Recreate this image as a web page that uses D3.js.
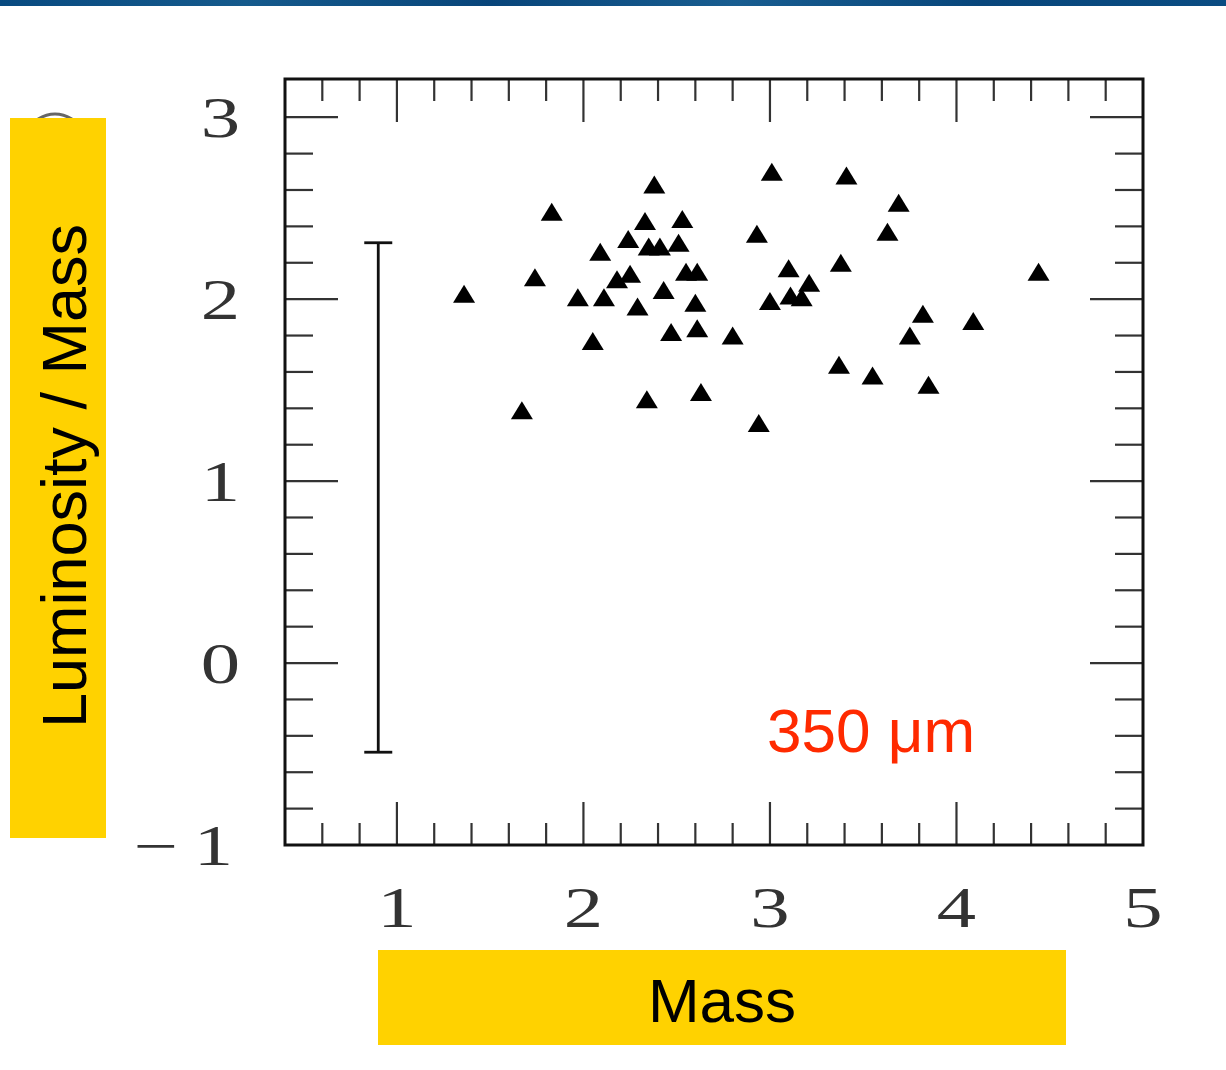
<!DOCTYPE html>
<html>
<head>
<meta charset="utf-8">
<title>Luminosity / Mass vs Mass</title>
<script src="https://cdn.jsdelivr.net/npm/d3@7"></script>
<style>
  html, body { margin: 0; padding: 0; background: #fff; }
  svg { display: block; }
</style>
</head>
<body>
<div id="chart"></div>
<script>
// values
var massValues = [1.36, 1.67, 1.74, 1.83, 1.97, 2.05, 2.09, 2.11, 2.18, 2.24, 2.25, 2.29,
                  2.33, 2.34, 2.35, 2.38, 2.41, 2.43, 2.47, 2.51, 2.53, 2.55, 2.60, 2.61,
                  2.61, 2.63, 2.80, 2.94, 2.93, 3.01, 3.00, 3.10, 3.11, 3.17, 3.21, 3.38,
                  3.37, 3.41, 3.55, 3.63, 3.69, 3.75, 3.82, 3.85, 4.09, 4.44];
var lumValues  = [2.03, 1.39, 2.12, 2.48, 2.01, 1.77, 2.26, 2.01, 2.11, 2.33, 2.14, 1.96,
                  2.43, 1.45, 2.29, 2.63, 2.29, 2.05, 1.82, 2.31, 2.44, 2.15, 1.98, 2.15,
                  1.84, 1.49, 1.80, 1.32, 2.36, 2.70, 1.99, 2.17, 2.02, 2.01, 2.09, 2.20,
                  1.64, 2.68, 1.58, 2.37, 2.53, 1.80, 1.92, 1.53, 1.88, 2.15];
var xTickLabels = [1, 2, 3, 4, 5];
var yTickLabels = [-1, 0, 1, 2, 3];
var errorBar = {x: 0.9, low: -0.49, high: 2.31};
var bandLabel = "350 \u03bcm";
var xTitle = "Mass";
var yTitle = "Luminosity / Mass";

var W = 1226, H = 1070;
var frame = {left: 285, right: 1143, top: 79, bottom: 845};

var svg = d3.select("#chart").append("svg").attr("width", W).attr("height", H);

// top banner strip
var grad = svg.append("defs").append("linearGradient").attr("id", "banner")
    .attr("x1", "0%").attr("x2", "100%").attr("y1", "0%").attr("y2", "0%");
[["0%", "#084a80"], ["20%", "#155a8c"], ["40%", "#08457a"], ["60%", "#185d90"], ["80%", "#08467b"], ["100%", "#0a4c82"]]
  .forEach(function (s) { grad.append("stop").attr("offset", s[0]).attr("stop-color", s[1]); });
svg.append("rect").attr("x", 0).attr("y", 0).attr("width", W).attr("height", 6).attr("fill", "url(#banner)");

var x = d3.scaleLinear().domain([0.4, 5]).range([frame.left, frame.right]);
var y = d3.scaleLinear().domain([-1, 3.21]).range([frame.bottom, frame.top]);

var tickColor = "#333";
var g = svg.append("g");

// minor + major ticks on all four sides
var xMinor = d3.range(0.6, 4.81, 0.2).filter(function (v) { return Math.abs(v - Math.round(v)) > 1e-6; });
var yMinor = d3.range(-0.8, 3.11, 0.2).filter(function (v) { return Math.abs(v - Math.round(v)) > 1e-6; });
var xMajor = xTickLabels.filter(function (v) { return v < 5; });
var yMajor = yTickLabels.filter(function (v) { return v > -1; });

function xTicks(vals, len) {
  vals.forEach(function (v) {
    g.append("line").attr("x1", x(v)).attr("x2", x(v)).attr("y1", frame.bottom).attr("y2", frame.bottom - len)
      .attr("stroke", tickColor).attr("stroke-width", 2.2);
    g.append("line").attr("x1", x(v)).attr("x2", x(v)).attr("y1", frame.top).attr("y2", frame.top + len)
      .attr("stroke", tickColor).attr("stroke-width", 2.2);
  });
}
function yTicks(vals, len) {
  vals.forEach(function (v) {
    g.append("line").attr("x1", frame.left).attr("x2", frame.left + len).attr("y1", y(v)).attr("y2", y(v))
      .attr("stroke", tickColor).attr("stroke-width", 2.2);
    g.append("line").attr("x1", frame.right).attr("x2", frame.right - len).attr("y1", y(v)).attr("y2", y(v))
      .attr("stroke", tickColor).attr("stroke-width", 2.2);
  });
}
xTicks(xMinor, 22);
xTicks(xMajor, 43);
yTicks(yMinor, 28);
yTicks(yMajor, 53);

// frame
g.append("rect").attr("x", frame.left).attr("y", frame.top)
  .attr("width", frame.right - frame.left).attr("height", frame.bottom - frame.top)
  .attr("fill", "none").attr("stroke", "#111").attr("stroke-width", 3);

// tick labels
var labelFont = "'Liberation Serif', 'DejaVu Serif', serif";
g.selectAll(".xlab").data(xTickLabels).enter().append("text")
  .attr("class", "xlab")
  .attr("transform", function (d) { return "translate(" + x(d) + "," + (frame.bottom + 82) + ") scale(1.38,1)"; })
  .attr("text-anchor", "middle")
  .attr("font-family", labelFont).attr("font-size", 57).attr("fill", "#333")
  .text(function (d) { return d; });
g.selectAll(".ylab").data(yTickLabels).enter().append("text")
  .attr("class", "ylab")
  .attr("transform", function (d) { return "translate(" + (d < 0 ? 233 : 240) + "," + (y(d) + 20) + ") scale(1.38,1)"; })
  .attr("text-anchor", "end")
  .attr("font-family", labelFont).attr("font-size", 57).attr("fill", "#333")
  .text(function (d) { return d < 0 ? "\u2212\u2009" + Math.abs(d) : d; });

// error bar
var cap = 14;
g.append("line").attr("x1", x(errorBar.x)).attr("x2", x(errorBar.x))
  .attr("y1", y(errorBar.high)).attr("y2", y(errorBar.low)).attr("stroke", "#111").attr("stroke-width", 2.8);
[errorBar.high, errorBar.low].forEach(function (v) {
  g.append("line").attr("x1", x(errorBar.x) - cap).attr("x2", x(errorBar.x) + cap)
    .attr("y1", y(v)).attr("y2", y(v)).attr("stroke", "#111").attr("stroke-width", 2.8);
});

// triangles
var triangle = {
  draw: function (ctx, size) {
    var w = 22, h = 18;
    ctx.moveTo(0, -h / 2);
    ctx.lineTo(w / 2, h / 2);
    ctx.lineTo(-w / 2, h / 2);
    ctx.closePath();
  }
};
var pts = massValues.map(function (m, i) { return {m: m, l: lumValues[i]}; });
g.selectAll(".pt").data(pts).enter().append("path")
  .attr("class", "pt")
  .attr("d", d3.symbol().type(triangle))
  .attr("transform", function (d) { return "translate(" + x(d.m) + "," + y(d.l) + ")"; })
  .attr("fill", "#000");

// red band label
g.append("text").attr("x", 767).attr("y", 752)
  .attr("font-family", "'Liberation Sans', Arial, sans-serif").attr("font-size", 62)
  .attr("fill", "#ff2a00").text(bandLabel);

// hidden grey glyph peeking over the y title box
svg.append("path").attr("d", "M38,119 Q55,109 72,119").attr("fill", "none")
  .attr("stroke", "#666").attr("stroke-width", 3);

// y title box
svg.append("rect").attr("x", 10).attr("y", 118).attr("width", 96).attr("height", 720).attr("fill", "#ffd200");
svg.append("text").attr("transform", "translate(86,476) rotate(-90)")
  .attr("text-anchor", "middle")
  .attr("font-family", "'Liberation Sans', Arial, sans-serif").attr("font-size", 63)
  .attr("fill", "#000").text(yTitle);

// x title box
svg.append("rect").attr("x", 378).attr("y", 950).attr("width", 688).attr("height", 95).attr("fill", "#ffd200");
svg.append("text").attr("x", 722).attr("y", 1022)
  .attr("text-anchor", "middle")
  .attr("font-family", "'Liberation Sans', Arial, sans-serif").attr("font-size", 62)
  .attr("fill", "#000").text(xTitle);
</script>
</body>
</html>
